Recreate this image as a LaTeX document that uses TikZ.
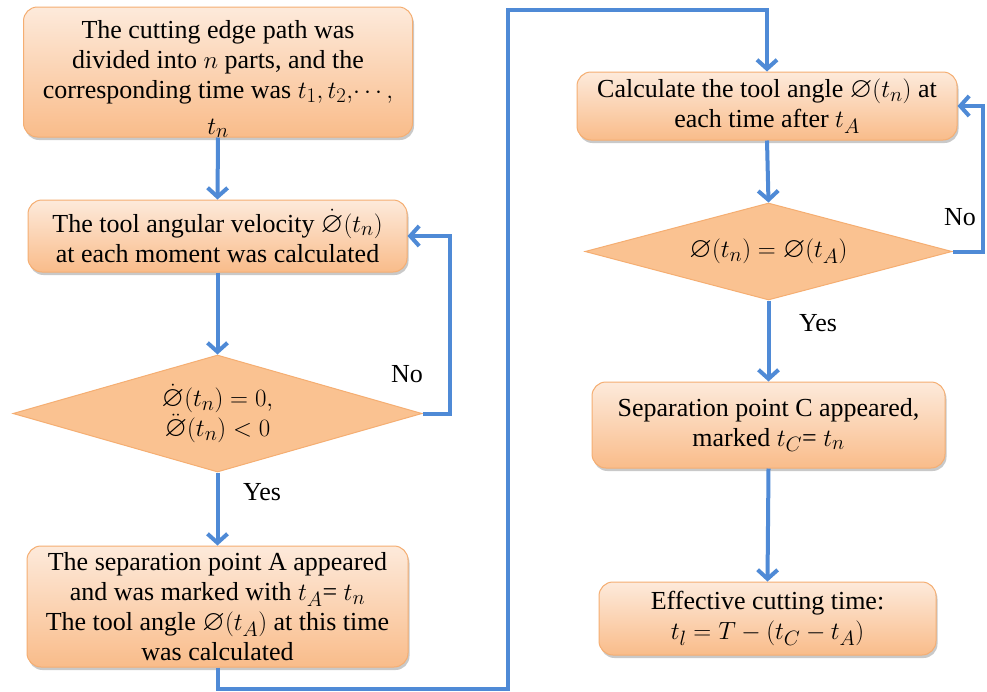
\documentclass[tikz,border=0pt]{standalone}
\usepackage{amssymb}
\usepackage{fontspec}
\setmainfont{Liberation Serif}
\DeclareMathSizes{26}{29}{21}{16}
\usetikzlibrary{shapes.geometric,arrows.meta,shadows}
\definecolor{peachA}{HTML}{FDEADB}
\definecolor{peachB}{HTML}{F9BC8A}
\definecolor{peachEdge}{HTML}{F5AE72}
\definecolor{diamFill}{HTML}{FAC291}
\definecolor{flowBlue}{HTML}{4F8AD6}
\newcommand{\vn}{\varnothing}
\begin{document}
\begin{tikzpicture}[x=1pt,y=-1pt,
  font=\fontsize{26}{30}\selectfont,
  procbox/.style={draw=peachEdge, line width=1pt, rounded corners=14pt,
    top color=peachA, bottom color=peachB, inner sep=1pt, align=center,
    drop shadow={shadow xshift=1.5pt, shadow yshift=-3pt, opacity=0.35, fill=black!60}},
  decide/.style={shape=diamond, draw=peachEdge, line width=1pt, fill=diamFill,
    inner sep=0pt, align=center},
  plaintext/.style={inner sep=0pt, align=center},
  flow/.style={draw=flowBlue, line width=4pt,
    -{Straight Barb[length=9pt, width=20pt]}},
  lbl/.style={inner sep=0pt}
]
\useasboundingbox[fill=white] (0,0) rectangle (987,691);

% left column
\node[procbox, minimum width=389pt, minimum height=130pt] (b1) at (218,72) {};
\node[plaintext] (b1t) at (218,79) {The cutting edge path was\\
  divided into $n$ parts, and the\\
  corresponding time was $t_1, t_2,\!\cdots,$\\[6pt]
  $t_n$};

\node[procbox, minimum width=379pt, minimum height=72pt] (b2) at (217.5,236)
  {The tool angular velocity $\dot{\vn}(t_n)$\\ at each moment was calculated};

\node[decide, minimum width=409pt, minimum height=117pt, aspect=3.5] (d1) at (217.5,413.5)
  {$\dot{\vn}(t_n) = 0,$\\ $\ddot{\vn}(t_n) < 0$};

\node[procbox, minimum width=381pt, minimum height=121pt] (b3) at (217.5,606.5)
  {The separation point A appeared\\
   and was marked with $t_A$= $t_n$\\
   The tool angle $\vn(t_A)$ at this time\\
   was calculated};

% right column
\node[procbox, minimum width=380pt, minimum height=68pt] (b4) at (767,106)
  {Calculate the tool angle $\vn(t_n)$ at\\ each time after $t_A$};

\node[decide, minimum width=367pt, minimum height=97pt, aspect=3.8] (d2) at (768.5,251.5)
  {$\vn(t_n) = \vn(t_A)$};

\node[procbox, minimum width=353pt, minimum height=86pt] (b5) at (768.5,425)
  {Separation point C appeared,\\ marked $t_C$= $t_n$};

\node[procbox, minimum width=337pt, minimum height=73pt] (b6) at (767.5,618.5)
  {Effective cutting time:\\ $t_l = T - (t_C - t_A)$};

% labels
\node[lbl] (no1) at (407,374) {No};
\node[lbl] (yes1) at (262,492) {Yes};
\node[lbl] (no2) at (960,217) {No};
\node[lbl] (yes2) at (818,323) {Yes};

% helper coordinates
\coordinate (r1) at (450,413.5);
\coordinate (r2) at (983,251.5);
\coordinate (c1) at (217.5,689);
\coordinate (c2) at (508,10);

% connectors
\draw[flow] (b1.south) -- (b2.north);
\draw[flow] (b2.south) -- (d1.north);
\draw[flow] (d1.east) -- (r1) |- (b2.east);
\draw[flow] (d1.south) -- (b3.north);
\draw[flow] (b3.south) -- (c1) -| (c2) -| (b4.north);
\draw[flow] (b4.south) -- (d2.north);
\draw[flow] (d2.east) -- (r2) |- (b4.east);
\draw[flow] (d2.south) -- (b5.north);
\draw[flow] (b5.south) -- (b6.north);
\end{tikzpicture}
\end{document}
